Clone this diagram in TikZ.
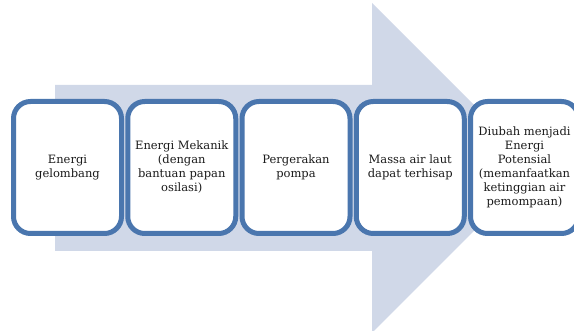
\documentclass[tikz,border=0pt]{standalone}
\usepackage{fontspec}
\setmainfont{DejaVu Serif}
\usepackage{tikz}
\usetikzlibrary{positioning}
\definecolor{shaft}{HTML}{D0D8E8}
\definecolor{rim}{HTML}{4A76AE}
\definecolor{ink}{HTML}{1A1A1A}

\begin{document}
\begin{tikzpicture}[x=1pt,y=1pt,
  font=\fontsize{11.5}{14}\selectfont,
  stage/.style={rounded corners=17pt, draw=rim, line width=5pt, fill=white, outer sep=0pt,
    minimum width=108pt, minimum height=132pt, align=center, text=ink, inner sep=1pt},
]
\useasboundingbox (0,0) rectangle (574,331);
\def\cy{163.5}

% ===== big background arrow =====
\fill[shaft] (55,80) -- (55,246) -- (372,246) -- (372,328) -- (537,163)
  -- (372,-2) -- (372,80) -- cycle;

% ===== five stages =====
\node[stage] (gel) at (67.5,\cy) {Energi\\gelombang};
\node[stage,right=6.25pt of gel] (mek) {Energi Mekanik\\(dengan\\bantuan papan\\osilasi)};
\node[stage,right=6.25pt of mek] (pom) {Pergerakan\\pompa};
\node[stage,right=6.25pt of pom] (mas) {Massa air laut\\dapat terhisap};
\node[stage,right=6.25pt of mas] (pot) {Diubah menjadi\\Energi\\Potensial\\(memanfaatkan\\ketinggian air\\pemompaan)};
\end{tikzpicture}
\end{document}
